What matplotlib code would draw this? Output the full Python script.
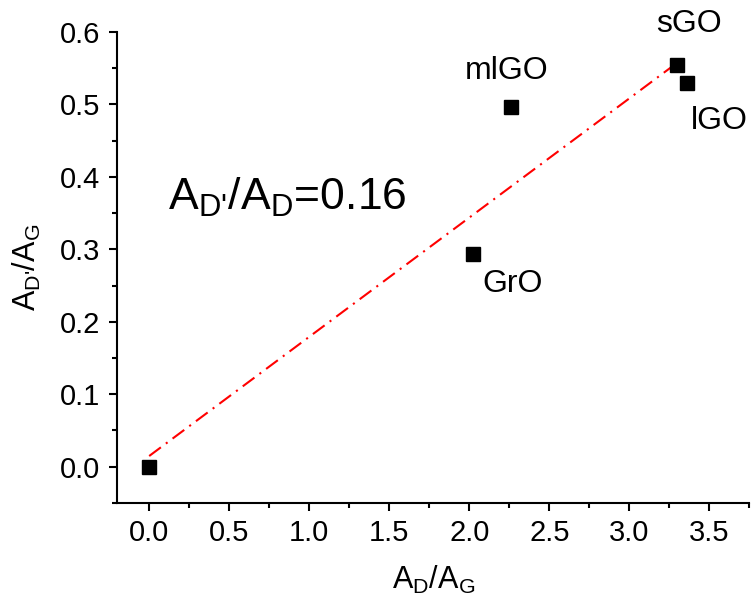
import numpy as np
import matplotlib.pyplot as plt
from matplotlib.ticker import MultipleLocator

plt.rcParams['font.family'] = ['Liberation Sans', 'DejaVu Sans']
plt.rcParams['mathtext.fontset'] = 'custom'
plt.rcParams['mathtext.rm'] = 'Liberation Sans'
plt.rcParams['mathtext.it'] = 'Liberation Sans'

# data
samples = ["origin", "GrO", "mlGO", "sGO", "lGO"]
ad_ag = np.array([0.0, 2.02, 2.26, 3.30, 3.36])
adp_ag = np.array([0.0, 0.294, 0.496, 0.554, 0.530])

# linear fit through the points
slope, intercept = np.polyfit(ad_ag, adp_ag, 1)
x_fit = np.array([0.0, 3.30])
y_fit = slope * x_fit + intercept

fig = plt.figure(figsize=(7.51, 6.05), dpi=100)
ax = fig.add_axes([0.156, 0.169, 0.842, 0.778])

ax.plot(x_fit, y_fit, color='red', linewidth=1.5, dashes=(7, 3, 1, 3))
ax.plot(ad_ag, adp_ag, linestyle='none', marker='s', markersize=10, color='black')

labels = {"GrO": (2.27, 0.241), "mlGO": (2.23, 0.535),
          "sGO": (3.375, 0.600), "lGO": (3.56, 0.466)}
for name, (tx, ty) in labels.items():
    ax.text(tx, ty, name, fontsize=23, ha='center', va='baseline')

ax.text(0.12, 0.355, r"$\mathregular{A_{D\text{'}}/A_D}$=0.16", fontsize=32, ha='left', va='baseline')

ax.set_xlim(-0.2, 3.75)
ax.set_ylim(-0.05, 0.6)
ax.xaxis.set_major_locator(MultipleLocator(0.5))
ax.xaxis.set_minor_locator(MultipleLocator(0.25))
ax.yaxis.set_major_locator(MultipleLocator(0.1))
ax.yaxis.set_minor_locator(MultipleLocator(0.05))
ax.xaxis.set_major_formatter(plt.FormatStrFormatter('%.1f'))
ax.yaxis.set_major_formatter(plt.FormatStrFormatter('%.1f'))

for s in ['top', 'right']:
    ax.spines[s].set_visible(False)
for s in ['left', 'bottom']:
    ax.spines[s].set_linewidth(1.5)

ax.tick_params(which='major', direction='out', length=6, width=1.5, labelsize=21, pad=6)
ax.tick_params(which='minor', direction='out', length=3.5, width=1.5)

ax.set_xlabel(r"$\mathregular{A_D/A_G}$", fontsize=22, labelpad=12)
ax.set_ylabel(r"$\mathregular{A_{D\text{'}}/A_G}$", fontsize=22, labelpad=12)

fig.savefig("out.png", dpi=100)
